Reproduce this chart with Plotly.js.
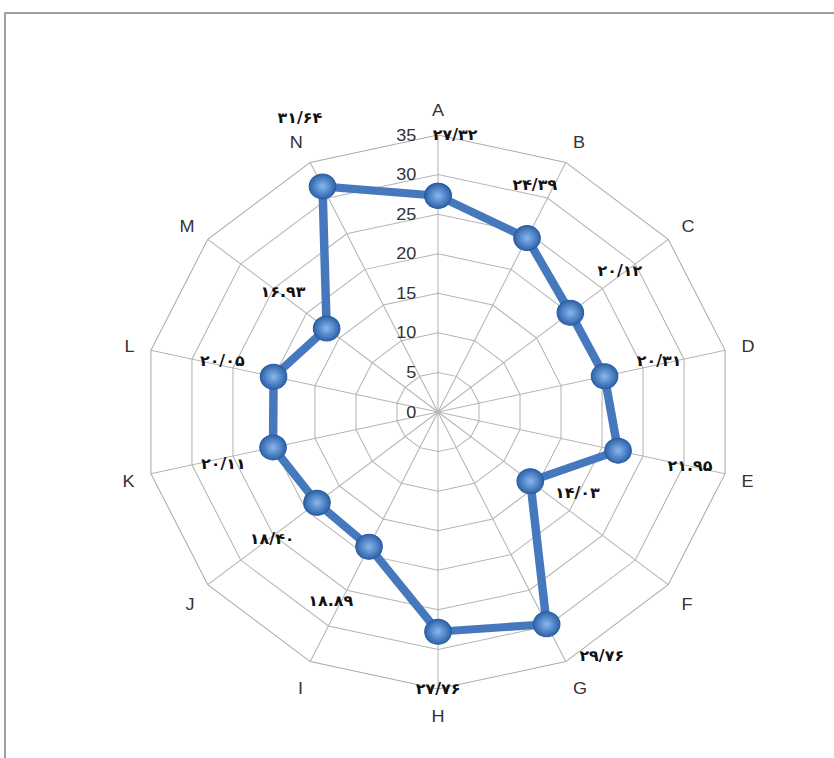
<!DOCTYPE html>
<html>
<head>
<meta charset="utf-8">
<script src="https://cdn.plot.ly/plotly-3.0.1.min.js"></script>
<style>
html,body{margin:0;padding:0;background:#fff;overflow:hidden;}
#frame{position:absolute;left:4px;top:12px;width:900px;height:800px;border-left:2px solid #a0a0a0;border-top:2px solid #a0a0a0;box-sizing:border-box;}
#chart{position:absolute;left:0;top:0;width:834px;height:758px;transform:scaleX(1.063);transform-origin:438px 0;}
</style>
</head>
<body>
<div id="frame"></div>
<div id="chart"></div>
<script>
// Data
const categories = ["A","B","C","D","E","F","G","H","I","J","K","L","M","N"];
const values = [27.32, 24.39, 20.12, 20.31, 21.95, 14.03, 29.76, 27.76, 18.89, 18.40, 20.11, 20.05, 16.93, 31.64];
const valueLabels = ["۲۷/۳۲","۲۴/۳۹","۲۰/۱۲","۲۰/۳۱","۲۱.۹۵","۱۴/۰۳","۲۹/۷۶","۲۷/۷۶","۱۸.۸۹","۱۸/۴۰","۲۰/۱۱","۲۰/۰۵","۱۶.۹۳","۳۱/۶۴"];
const radialTicks = [0,5,10,15,20,25,30,35];

// Layout constants (label placement, in radial units and degrees clockwise from top)
const labelR     = [35.1, 30.9, 28.0, 27.1, 30.7, 19.5, 36.5, 35.0, 27.1, 25.4, 26.4, 26.4, 23.9, 40.6];
const labelAngle = [3.3, 21.8, 50.5, 76.3, 102.8, 121.6, 147.8, 180, 208.2, 230.9, 255.7, 284, 309.4, 336.2];

const W = 834, H = 758;
const cx = 438, cy = 412, R = 277, rMax = 35;

const domX = [(cx - R) / W, (cx + R) / W];
const domY = [(H - cy - R) / H, (H - cy + R) / H];

const closedTheta = categories.concat([categories[0]]);
const closedR = values.concat([values[0]]);

const trace = {
  type: "scatterpolar",
  r: closedR,
  theta: closedTheta,
  mode: "lines+markers",
  line: {color: "#4678BE", width: 8},
  marker: {
    size: 25,
    color: "#2c62aa",
    gradient: {type: "radial", color: "#8ab8ee"},
    line: {color: "#2a5c9e", width: 1}
  },
  hoverinfo: "skip",
  showlegend: false,
  cliponaxis: false
};

const annotations = valueLabels.map((t, i) => {
  const a = labelAngle[i] * Math.PI / 180;
  const rp = labelR[i] / rMax * R;
  const px = cx + rp * Math.sin(a);
  const py = cy - rp * Math.cos(a);
  return {
    text: t, xref: "paper", yref: "paper",
    x: px / W, y: (H - py) / H,
    xanchor: "center", yanchor: "middle",
    showarrow: false,
    font: {family: "DejaVu Sans", size: 15, color: "#111", weight: "bold"}
  };
});

const layout = {
  width: W, height: H,
  margin: {l: 0, r: 0, t: 0, b: 0},
  paper_bgcolor: "rgba(0,0,0,0)",
  plot_bgcolor: "rgba(0,0,0,0)",
  showlegend: false,
  annotations: annotations,
  polar: {
    domain: {x: domX, y: domY},
    gridshape: "linear",
    bgcolor: "rgba(0,0,0,0)",
    angularaxis: {
      type: "category",
      categoryarray: categories,
      direction: "clockwise",
      rotation: 90,
      showline: true,
      linecolor: "#ababab",
      linewidth: 1,
      gridcolor: "#b5b5b5",
      gridwidth: 1,
      ticks: "outside",
      ticklen: 12,
      tickcolor: "rgba(0,0,0,0)",
      tickfont: {family: "Liberation Sans", size: 17, color: "#333"}
    },
    radialaxis: {
      range: [0, rMax],
      tickvals: radialTicks,
      angle: 90,
      side: "counterclockwise",
      showline: false,
      gridcolor: "#b5b5b5",
      gridwidth: 1,
      ticks: "outside",
      ticklen: 14,
      tickcolor: "rgba(0,0,0,0)",
      tickangle: 90,
      tickfont: {family: "Liberation Sans", size: 17, color: "#333"}
    }
  }
};

Plotly.newPlot("chart", [trace], layout, {displayModeBar: false, staticPlot: true});
</script>
</body>
</html>
